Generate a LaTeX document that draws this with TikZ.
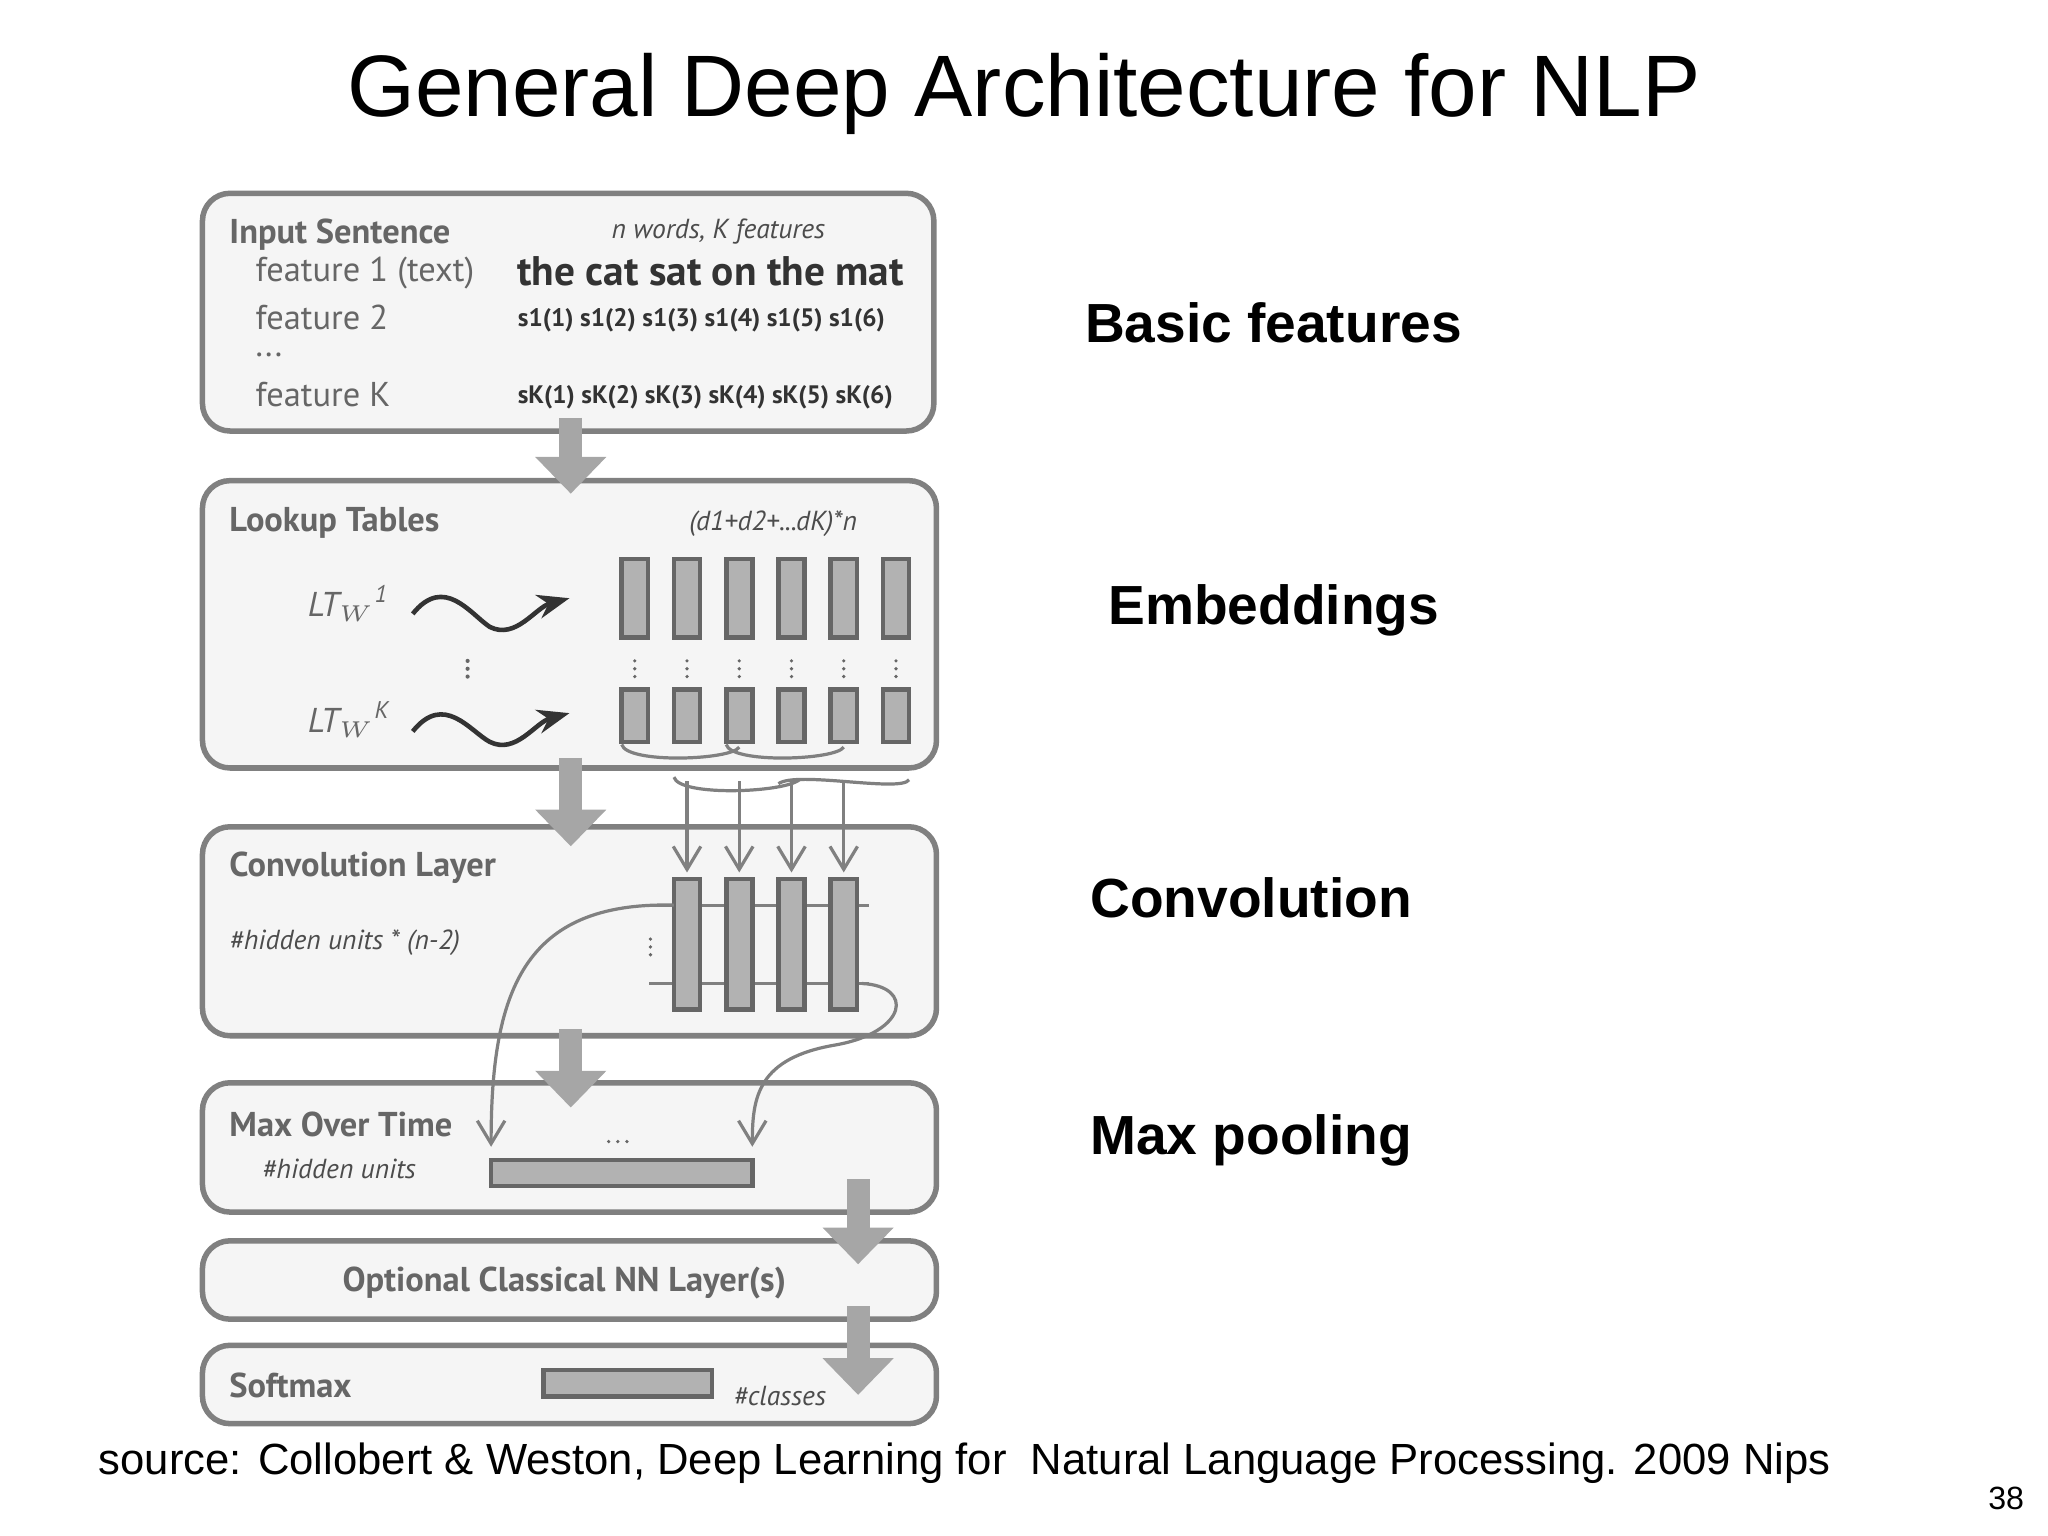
\documentclass[tikz,border=0pt]{standalone}
\usepackage{fontspec}
\setmainfont{Liberation Sans}
\newfontfamily\pts{PT Sans}
\usetikzlibrary{arrows.meta}
\begin{document}
\begin{tikzpicture}[x=0.01cm,y=-0.01cm,
 box/.style={draw=black!50,fill=black!4,line width=1.2pt,rounded corners=6pt},
 lab/.style={font=\pts\bfseries\fontsize{7.5}{9}\selectfont,text=black!60,anchor=west,inner sep=0},
 sml/.style={font=\pts\itshape\fontsize{6}{7}\selectfont,text=black!70,inner sep=0},
 col/.style={draw=black!60,fill=black!30,line width=1pt},
 big/.style={draw=black!35,line width=5pt,-{Triangle[length=8pt,width=15pt]}},
 thin/.style={draw=black!50,line width=0.7pt},
 tarr/.style={thin,-{Straight Barb[length=5pt,width=6pt]}},
 dot/.style={fill=black!60,draw=none},
 right/.style={font=\bfseries\fontsize{12}{14}\selectfont,anchor=west,inner sep=0}]
\useasboundingbox (0,0) rectangle (1568,1176);
\node[font=\fontsize{19}{23}\selectfont] (title) at (784,72) {General Deep Architecture for NLP};
% boxes
\draw[box] (155,148) rectangle (715,330);
\draw[box] (155,368) rectangle (717,588);
\draw[box] (155,633) rectangle (717,793);
\draw[box] (155,829) rectangle (717,928);
\draw[box] (155,950) rectangle (717,1010);
\draw[box] (155,1030) rectangle (717,1090);
% input texts
\node[lab] (in) at (175,180) {Input Sentence};
\node[lab,font=\pts\fontsize{7.5}{9}\selectfont] (f1) at (195,209) {feature 1 (text)};
\node[lab,font=\pts\fontsize{7.5}{9}\selectfont] (f2) at (195,243) {feature 2};
\node[lab,font=\pts\fontsize{7.5}{9}\selectfont] (f3) at (195,272) {...};
\node[lab,font=\pts\fontsize{7.5}{9}\selectfont] (fk) at (195,302) {feature K};
\node[sml] (nw) at (550,177) {n words, K features};
\node[font=\pts\bfseries\fontsize{9}{11}\selectfont,text=black!80,inner sep=0] (cat) at (544,208) {the cat sat on the mat};
\node[font=\pts\bfseries\fontsize{5.5}{7}\selectfont,text=black!80,inner sep=0] (s1) at (537,245) {s1(1) s1(2) s1(3) s1(4) s1(5) s1(6)};
\node[font=\pts\bfseries\fontsize{5.5}{7}\selectfont,text=black!80,inner sep=0] (sk) at (540,304) {sK(1) sK(2) sK(3) sK(4) sK(5) sK(6)};
% lookup
\node[lab] (lt) at (175,400) {Lookup Tables};
\node[sml] (dim) at (592,401) {(d1+d2+...dK)*n};
\node[lab,font=\pts\itshape\fontsize{7.5}{9}\selectfont] (l1) at (235,462) {LT$_{W}$\textsuperscript{1}};
\node[lab,font=\pts\itshape\fontsize{7.5}{9}\selectfont] (lk) at (235,551) {LT$_{W}$\textsuperscript{K}};
\foreach \y in {506,512,518} \fill[dot] (358,\y) circle (1.6);
\draw[thin,line width=1pt,-{Stealth[length=7pt]},black!80] (316,470) .. controls (340,440) and (360,470) .. (375,480) .. controls (395,490) and (410,465) .. (436,458);
\draw[thin,line width=1pt,-{Stealth[length=7pt]},black!80] (316,560) .. controls (340,530) and (360,560) .. (375,568) .. controls (395,578) and (410,553) .. (436,546);
\foreach \x in {486,526,566,606,646,686}{
 \draw[col] (\x-10,428) rectangle (\x+10,488);
 \draw[col] (\x-10,528) rectangle (\x+10,568);
 \foreach \y in {506,512,518} \fill[dot] (\x,\y) circle (1.4);}
\draw[thin] (476,570) .. controls (480,585) and (560,582) .. (566,572);
\draw[thin] (556,570) .. controls (560,585) and (640,582) .. (646,572);
\draw[thin] (516,595) .. controls (520,610) and (600,607) .. (612,597);
\draw[thin] (596,600) .. controls (610,590) and (690,607) .. (696,597);
% conv
\node[lab] (cl) at (175,664) {Convolution Layer};
\node[sml,anchor=west] (hu) at (175,722) {\#hidden units * (n-2)};
\draw[thin] (497,693) -- (665,693);
\draw[thin] (497,753) -- (665,753);
\foreach \x in {526,566,606,646}{
 \draw[col] (\x-10,673) rectangle (\x+10,773);
 \draw[tarr] (\x,598) -- (\x,668);}
\foreach \y in {719,725,731} \fill[dot] (498,\y) circle (1.4);
\draw[tarr] (516,693) .. controls (400,690) and (376,760) .. (376,878);
\draw[tarr] (660,753) .. controls (700,755) and (695,790) .. (640,800) .. controls (580,810) and (576,840) .. (576,878);
% max
\node[lab] (mx) at (175,861) {Max Over Time};
\node[sml,anchor=west] (hu2) at (200,895) {\#hidden units};
\foreach \x in {466,473,480} \fill[dot] (\x,874) circle (1.4);
\draw[col] (376,888) rectangle (576,908);
% optional and softmax
\node[lab,anchor=center] (op) at (432,982) {Optional Classical NN Layer(s)};
\node[lab] (sm) at (175,1061) {Softmax};
\draw[col] (416,1049) rectangle (545,1069);
\node[sml] (cls) at (597,1069) {\#classes};
% big arrows
\draw[big] (437,320) -- (437,378);
\draw[big] (437,580) -- (437,648);
\draw[big] (437,788) -- (437,848);
\draw[big] (657,903) -- (657,968);
\draw[big] (657,1000) -- (657,1068);
% right labels
\node[right] (r1) at (830,247) {Basic features};
\node[right] (r2) at (848,467) {Embeddings};
\node[right] (r3) at (834,687) {Convolution};
\node[right] (r4) at (834,873) {Max pooling};
\node[font=\fontsize{9.5}{11}\selectfont,anchor=west,inner sep=0] (src) at (75,1120) {source: Collobert \& Weston, Deep Learning for\ \ Natural Language Processing. 2009 Nips};
\node[font=\fontsize{7}{8}\selectfont,inner sep=0] (pg) at (1536,1147) {38};
\end{tikzpicture}
\end{document}
